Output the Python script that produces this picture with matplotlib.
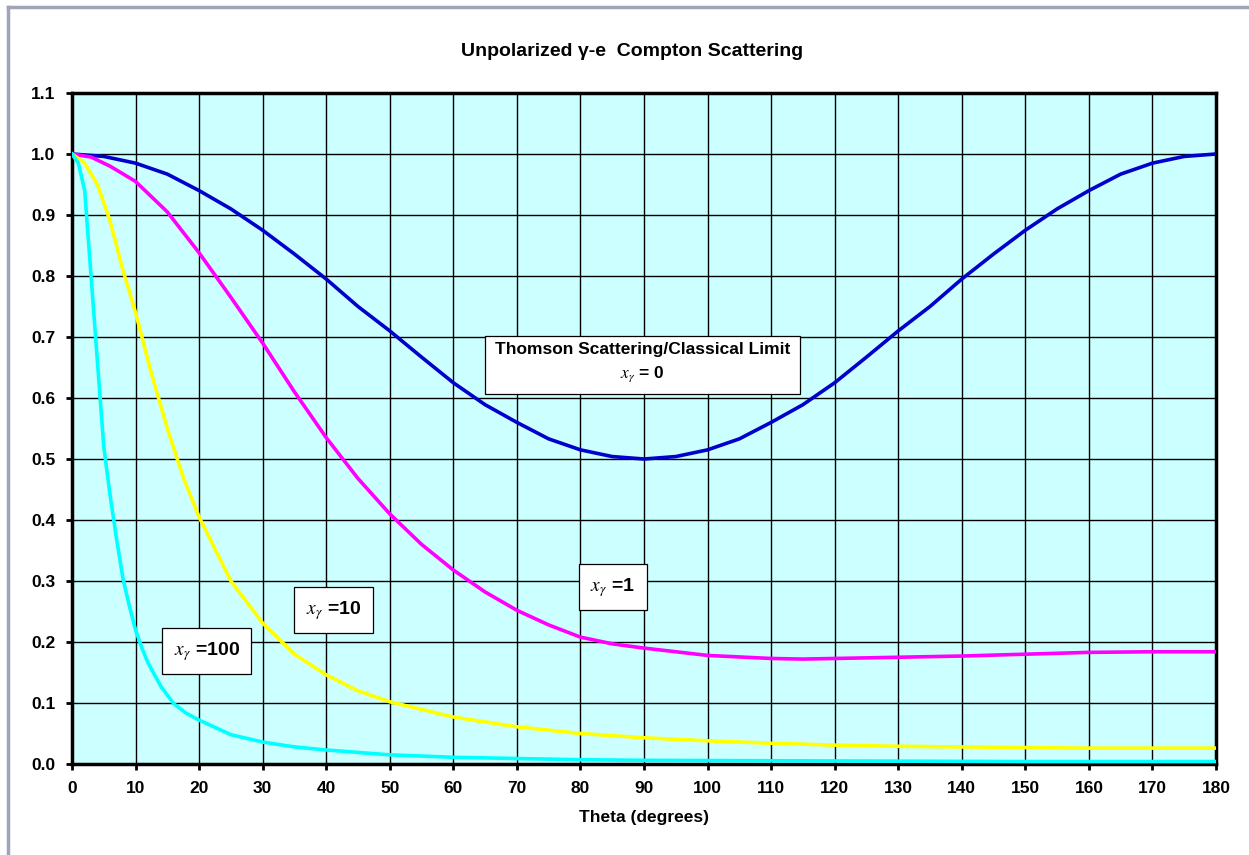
import matplotlib.pyplot as plt
from matplotlib.lines import Line2D

plt.rcParams['font.family'] = ['Liberation Sans', 'DejaVu Sans']
plt.rcParams['mathtext.fontset'] = 'stix'

# values
theta_blue = [0, 5, 10, 15, 20, 25, 30, 35, 40, 45, 50, 55, 60, 65, 70, 75, 80, 85, 90,
              95, 100, 105, 110, 115, 120, 125, 130, 135, 140, 145, 150, 155, 160, 165, 170, 175, 180]
thomson = [1.0, 0.996, 0.985, 0.967, 0.94, 0.91, 0.875, 0.836, 0.795, 0.75, 0.71, 0.667, 0.625,
           0.589, 0.56, 0.533, 0.515, 0.504, 0.5, 0.504, 0.515, 0.533, 0.56, 0.589, 0.625, 0.667,
           0.71, 0.75, 0.795, 0.836, 0.875, 0.91, 0.94, 0.967, 0.985, 0.996, 1.0]

theta_mag = [0, 3, 6, 10, 15, 20, 25, 30, 35, 40, 45, 50, 55, 60, 65, 70, 75, 80, 85, 90,
             100, 110, 115, 120, 130, 140, 150, 160, 170, 180]
xg_1 = [1.0, 0.995, 0.98, 0.955, 0.905, 0.838, 0.765, 0.69, 0.61, 0.535, 0.468, 0.41, 0.36,
        0.318, 0.282, 0.252, 0.228, 0.208, 0.197, 0.19, 0.178, 0.173, 0.172, 0.173, 0.175,
        0.177, 0.18, 0.183, 0.184, 0.184]

theta_yel = [0, 2, 4, 6, 8, 10, 12.5, 15, 17.5, 20, 25, 30, 35, 40, 45, 50, 60, 70, 80, 90,
             100, 110, 120, 130, 140, 150, 160, 170, 180]
xg_10 = [1.0, 0.985, 0.95, 0.89, 0.81, 0.74, 0.64, 0.55, 0.47, 0.405, 0.30, 0.231, 0.18, 0.146,
         0.12, 0.102, 0.077, 0.061, 0.05, 0.043, 0.038, 0.034, 0.031, 0.029, 0.028, 0.027,
         0.026, 0.026, 0.026]

theta_cyan = [0, 1, 2, 3, 4, 5, 6, 7, 8, 9, 10, 11, 12, 14, 16, 18, 20, 25, 30, 35, 40, 50,
              60, 70, 80, 90, 120, 150, 180]
xg_100 = [1.0, 0.985, 0.94, 0.8, 0.66, 0.52, 0.44, 0.37, 0.305, 0.26, 0.22, 0.19, 0.165, 0.127,
          0.099, 0.083, 0.072, 0.048, 0.036, 0.028, 0.023, 0.015, 0.011, 0.009, 0.007, 0.006,
          0.005, 0.004, 0.004]

fig = plt.figure(figsize=(12.49, 8.55), dpi=100)
ax = fig.add_axes([72 / 1249, 1 - 764 / 855, (1216 - 72) / 1249, (764 - 93) / 855])
ax.set_facecolor('#ccffff')

ax.plot(theta_blue, thomson, color='#0000cc', lw=2.6, zorder=3)
ax.plot(theta_mag, xg_1, color='#ff00ff', lw=2.6, zorder=3)
ax.plot(theta_yel, xg_10, color='#ffff00', lw=2.6, zorder=3)
ax.plot(theta_cyan, xg_100, color='#00ffff', lw=2.6, zorder=3)

ax.set_xlim(0, 180)
ax.set_ylim(0, 1.1)
ax.set_xticks(range(0, 181, 10))
ax.set_yticks([i / 10 for i in range(12)])
ax.set_yticklabels([f'{i / 10:.1f}' for i in range(12)])
ax.grid(True, color='black', lw=1.0, zorder=1)
ax.set_axisbelow(True)
for s in ax.spines.values():
    s.set_linewidth(2.5)
ax.tick_params(axis='both', direction='out', length=4, width=2, labelsize=12.5, pad=8)
for lab in ax.get_xticklabels() + ax.get_yticklabels():
    lab.set_fontweight('bold')

ax.set_xlabel('Theta (degrees)', fontsize=12.5, fontweight='bold', labelpad=10)
fig.text(632 / 1249, 1 - 52 / 855, 'Unpolarized γ-e  Compton Scattering', ha='center', va='center',
         fontsize=14, fontweight='bold')

xg = r'$\mathit{x}_{\gamma}$'
ax.text(89.8, 0.657, 'Thomson Scattering/Classical Limit\n' + xg + ' = 0',
        ha='center', va='center', fontsize=12.5, fontweight='bold', linespacing=1.6, zorder=5,
        bbox=dict(boxstyle='square,pad=0.55', fc='white', ec='black', lw=0.9))
for th, v, s in [(85.1, 0.29, ' =1'), (41.1, 0.252, ' =10'), (21.2, 0.185, ' =100')]:
    ax.text(th, v, xg + s, ha='center', va='center', fontsize=14, fontweight='bold', zorder=5,
            bbox=dict(boxstyle='square,pad=0.6', fc='white', ec='black', lw=0.9))

# grey page border (top and left)
fig.add_artist(Line2D([8 / 1249, 1], [1 - 7 / 855, 1 - 7 / 855], color='#a0a4b8', lw=2.5))
fig.add_artist(Line2D([8 / 1249, 8 / 1249], [0, 1 - 7 / 855], color='#a0a4b8', lw=2.5))

fig.savefig('out.png', dpi=100)
